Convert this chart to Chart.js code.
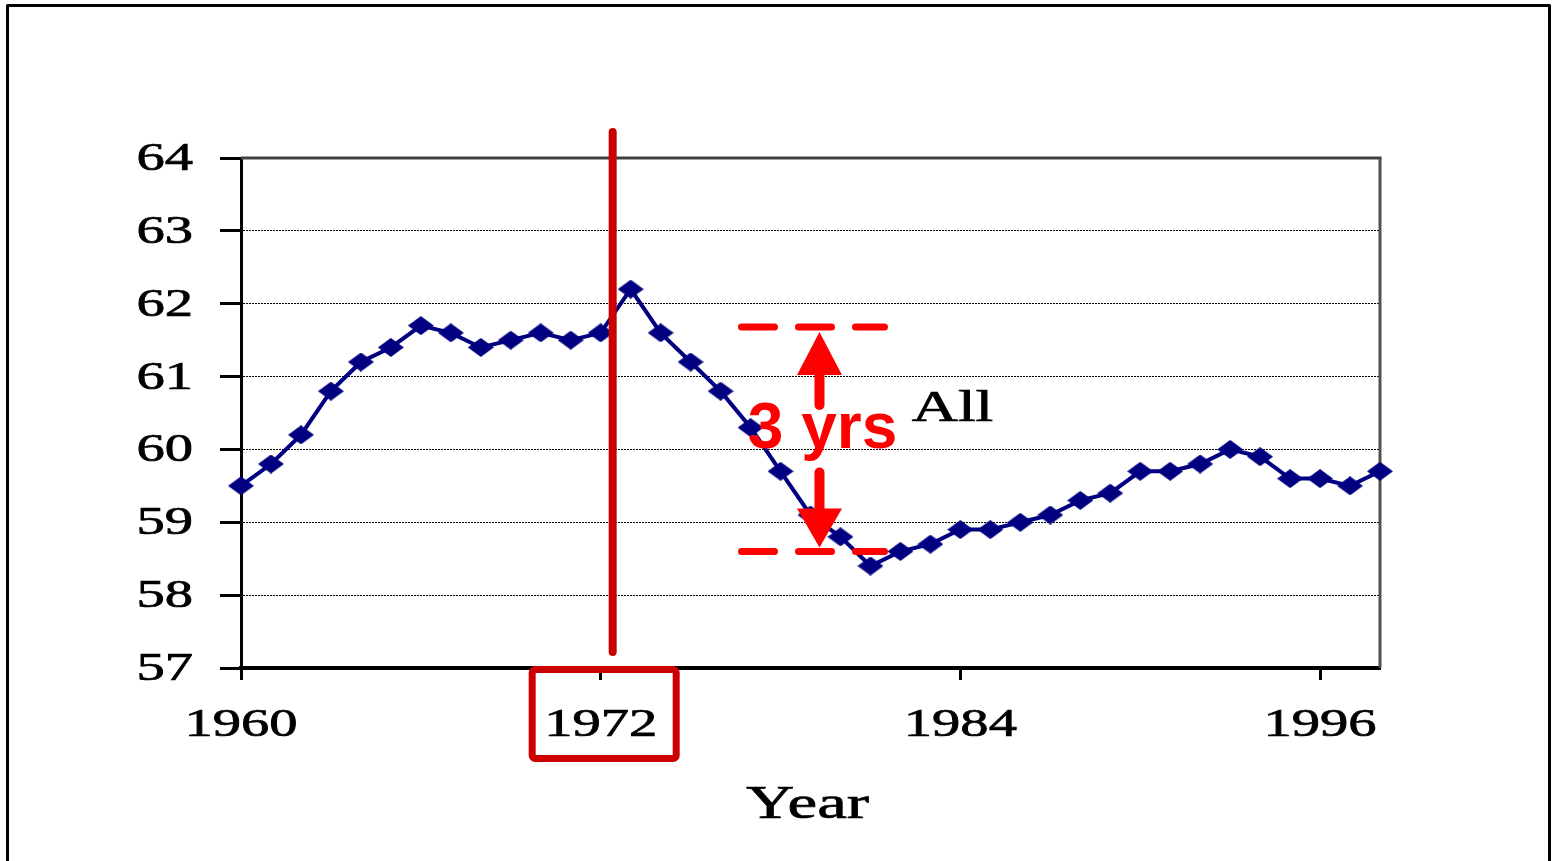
<!DOCTYPE html>
<html>
<head>
<meta charset="utf-8">
<script src="https://cdn.jsdelivr.net/npm/chart.js@4.4.1/dist/chart.umd.min.js"></script>
<style>
html,body{margin:0;padding:0;background:#fff;}
canvas{display:block;}
</style>
</head>
<body>
<canvas id="c" width="1552" height="861"></canvas>
<script>
// ---- data ----
const years = ['1960','1961','1962','1963','1964','1965','1966','1967','1968','1969',
               '1970','1971','1972','1973','1974','1975','1976','1977','1978','1979',
               '1980','1981','1982','1983','1984','1985','1986','1987','1988','1989',
               '1990','1991','1992','1993','1994','1995','1996','1997','1998'];
const values = [59.5,59.8,60.2,60.8,61.2,61.4,61.7,61.6,61.4,61.5,
                61.6,61.5,61.6,62.2,61.6,61.2,60.8,60.3,59.7,59.1,
                58.8,58.4,58.6,58.7,58.9,58.9,59.0,59.1,59.3,59.4,
                59.7,59.7,59.8,60.0,59.9,59.6,59.6,59.5,59.7];
const xTickLabels = ['1960','1972','1984','1996'];
const yTickValues = [57,58,59,60,61,62,63,64];
const seriesName = 'All';
const axisTitle = 'Year';
const highlightYear = '1972';
const gapLabel = '3 yrs';
const gapTop = 61.68;
const gapBottom = 58.6;

// ---- styling ----
const SX = 1.45;              // horizontal stretch of the chart text
const serif = '"Liberation Serif", "Times New Roman", serif';
const navy = '#000080';

function stretchText(ctx, text, x, y, font, align) {
  ctx.save();
  ctx.font = font;
  ctx.fillStyle = '#000';
  ctx.strokeStyle = '#000';
  ctx.lineWidth = 0.7;
  ctx.textAlign = align;
  ctx.textBaseline = 'alphabetic';
  ctx.translate(x, y);
  ctx.scale(SX, 1);
  ctx.fillText(text, 0, 0);
  ctx.strokeText(text, 0, 0);
  ctx.restore();
}

// wide diamond marker
const marker = document.createElement('canvas');
marker.width = 26; marker.height = 19;
(function(){
  const m = marker.getContext('2d');
  m.fillStyle = navy;
  m.beginPath();
  m.moveTo(13,0); m.lineTo(26,9.5); m.lineTo(13,19); m.lineTo(0,9.5);
  m.closePath(); m.fill();
})();

const bgPlugin = {
  id: 'bg',
  beforeDraw(chart) {
    const ctx = chart.ctx;
    ctx.save();
    ctx.fillStyle = '#fff';
    ctx.fillRect(0, 0, chart.width, chart.height);
    ctx.restore();
  }
};

const framePlugin = {
  id: 'frame',
  beforeDatasetsDraw(chart) {
    const {ctx, chartArea: a} = chart;
    ctx.save();
    ctx.lineWidth = 3;
    ctx.strokeStyle = '#404040';
    ctx.beginPath();
    ctx.moveTo(a.left, a.top); ctx.lineTo(a.right + 1.5, a.top);
    ctx.stroke();
    ctx.strokeStyle = '#505050';
    ctx.beginPath();
    ctx.moveTo(a.right, a.top); ctx.lineTo(a.right, a.bottom);
    ctx.stroke();
    ctx.restore();
  }
};

const labelPlugin = {
  id: 'labels',
  afterDatasetsDraw(chart) {
    const {ctx, chartArea: a, scales: {x, y}} = chart;
    const tickFont = '39px ' + serif;
    yTickValues.forEach(v => {
      stretchText(ctx, String(v), 193, y.getPixelForValue(v) + 12, tickFont, 'right');
    });
    xTickLabels.forEach(lbl => {
      const i = years.indexOf(lbl);
      stretchText(ctx, lbl, x.getPixelForValue(i), 736, tickFont, 'center');
    });
    stretchText(ctx, axisTitle, (a.left + a.right) / 2 - 3, 818, '46px ' + serif, 'center');
    stretchText(ctx, seriesName, x.getPixelForValue(22.38), 421, '44px ' + serif, 'left');
  }
};

const annotationPlugin = {
  id: 'annot',
  afterDraw(chart) {
    const {ctx, chartArea: a, scales: {x, y}} = chart;
    const hi = years.indexOf(highlightYear);
    const tickX = x.getPixelForValue(hi);
    ctx.save();
    // vertical marker line
    const vx = x.getPixelForValue(hi + 0.4);
    ctx.strokeStyle = '#cc0000';
    ctx.lineWidth = 8;
    ctx.lineCap = 'round';
    ctx.beginPath();
    ctx.moveTo(vx, a.top - 26); ctx.lineTo(vx, a.bottom - 16);
    ctx.stroke();
    // box around the highlighted year label
    ctx.lineWidth = 7;
    ctx.lineJoin = 'round';
    ctx.beginPath();
    ctx.roundRect(tickX - 68.5, a.bottom + 1.5, 144, 89, 3);
    ctx.stroke();

    // gap annotation
    const ax = x.getPixelForValue(19.3);
    const yT = y.getPixelForValue(gapTop);
    const yB = y.getPixelForValue(gapBottom);
    ctx.strokeStyle = '#ff0000';
    ctx.fillStyle = '#ff0000';
    ctx.lineWidth = 7;
    ctx.lineCap = 'round';
    ctx.setLineDash([33, 24]);
    [yT, yB].forEach(yy => {
      ctx.beginPath();
      ctx.moveTo(ax - 78, yy); ctx.lineTo(ax + 65, yy);
      ctx.stroke();
    });
    ctx.setLineDash([]);
    // up arrow
    ctx.beginPath();
    ctx.moveTo(ax, yT + 5); ctx.lineTo(ax + 22.5, yT + 48); ctx.lineTo(ax - 22.5, yT + 48);
    ctx.closePath(); ctx.fill();
    ctx.lineWidth = 10;
    ctx.beginPath();
    ctx.moveTo(ax, yT + 44); ctx.lineTo(ax, yT + 78);
    ctx.stroke();
    // down arrow
    ctx.beginPath();
    ctx.moveTo(ax, yB - 4); ctx.lineTo(ax + 22.5, yB - 43); ctx.lineTo(ax - 22.5, yB - 43);
    ctx.closePath(); ctx.fill();
    ctx.beginPath();
    ctx.moveTo(ax, yB - 40); ctx.lineTo(ax, yB - 79);
    ctx.stroke();
    // label
    ctx.font = 'bold 64px "Liberation Sans", Arial, sans-serif';
    ctx.textAlign = 'center';
    ctx.textBaseline = 'alphabetic';
    ctx.fillText(gapLabel, ax + 3, 448);

    // outer frame
    ctx.strokeStyle = '#000';
    ctx.lineWidth = 3;
    ctx.strokeRect(7.5, 5.5, 1542, 1000);
    ctx.restore();
  }
};

new Chart(document.getElementById('c'), {
  type: 'line',
  data: {
    labels: years,
    datasets: [{
      label: seriesName,
      data: values,
      borderColor: navy,
      borderWidth: 4,
      tension: 0,
      pointStyle: marker,
      pointRadius: 9,
      pointHoverRadius: 9,
      clip: false
    }]
  },
  options: {
    responsive: false,
    animation: false,
    events: [],
    layout: { padding: { left: 0, right: 172, top: 158, bottom: 0 } },
    plugins: { legend: { display: false }, tooltip: { enabled: false }, title: { display: false } },
    scales: {
      x: {
        type: 'category',
        ticks: { display: false, autoSkip: false },
        grid: {
          display: true,
          drawOnChartArea: false,
          drawTicks: true,
          tickLength: 12,
          tickWidth: 3,
          tickColor: ctx => xTickLabels.includes(years[ctx.index]) ? '#000' : 'rgba(0,0,0,0)'
        },
        border: { display: true, color: '#000', width: 4 },
        afterFit: s => { s.height = 193; }
      },
      y: {
        min: 57,
        max: 64,
        ticks: { display: false, stepSize: 1 },
        grid: {
          display: true,
          drawOnChartArea: true,
          drawTicks: true,
          lineWidth: 1,
          color: ctx => (ctx.tick && (ctx.tick.value === 57 || ctx.tick.value === 64)) ? 'rgba(0,0,0,0)' : '#000',
          tickLength: 21,
          tickWidth: 3,
          tickColor: '#000',
          tickBorderDash: []
        },
        border: { display: true, color: '#000', width: 3, dash: [2, 1] },
        afterFit: s => { s.width = 241; }
      }
    }
  },
  plugins: [bgPlugin, framePlugin, labelPlugin, annotationPlugin]
});
</script>
</body>
</html>
